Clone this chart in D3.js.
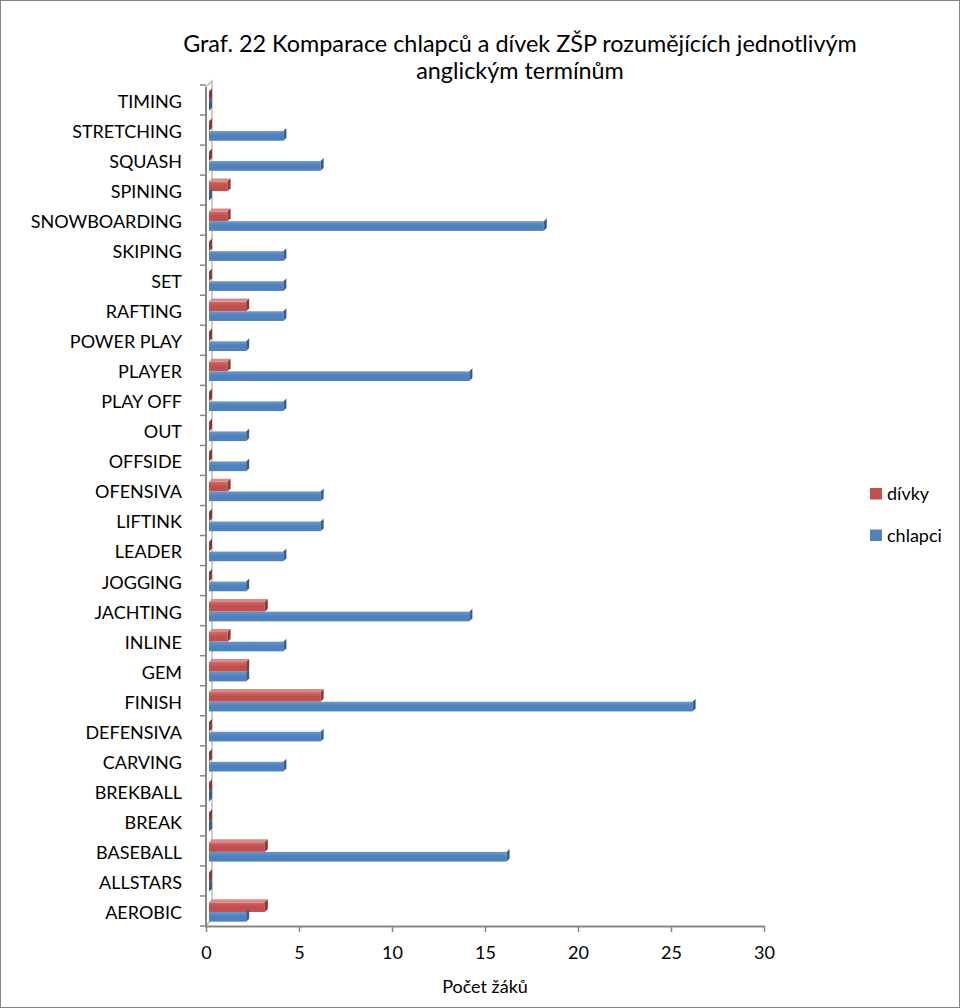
<!DOCTYPE html>
<html>
<head>
<meta charset="utf-8">
<script src="https://cdn.jsdelivr.net/npm/d3@7"></script>
<style>
  html, body { margin: 0; padding: 0; background: #fff; }
  svg { display: block; }
  text { font-family: Lato, "Open Sans", sans-serif; fill: #000; }
</style>
</head>
<body>
<svg id="chart" width="960" height="1008"></svg>
<script>
// Terms, listed bottom to top as they appear on the category axis
const categories = [
  "AEROBIC", "ALLSTARS", "BASEBALL", "BREAK", "BREKBALL", "CARVING",
  "DEFENSIVA", "FINISH", "GEM", "INLINE", "JACHTING", "JOGGING", "LEADER",
  "LIFTINK", "OFENSIVA", "OFFSIDE", "OUT", "PLAY OFF", "PLAYER",
  "POWER PLAY", "RAFTING", "SET", "SKIPING", "SNOWBOARDING", "SPINING",
  "SQUASH", "STRETCHING", "TIMING"
];
// Number of girls who understood each term
const divky = [3, 0, 3, 0, 0, 0, 0, 6, 2, 1, 3, 0, 0, 0, 1, 0, 0, 0, 1, 0, 2, 0, 0, 1, 1, 0, 0, 0];
// Number of boys who understood each term
const chlapci = [2, 0, 16, 0, 0, 4, 6, 26, 2, 4, 14, 2, 4, 6, 6, 2, 2, 4, 14, 2, 4, 4, 4, 18, 0, 6, 4, 0];
const xTicks = [0, 5, 10, 15, 20, 25, 30];
const seriesNames = ["dívky", "chlapci"];
const titleLines = ["Graf. 22 Komparace chlapců a dívek ZŠP rozumějících jednotlivým", "anglickým termínům"];
const xAxisTitle = "Počet žáků";

const colors = {
  "dívky":   { front: "#C0504D", top: "#D98A88", side: "#8C3836", light: "#CF6B68" },
  "chlapci": { front: "#4F81BD", top: "#8AAEDB", side: "#385D8A", light: "#6C97CD" }
};

const svg = d3.select("#chart");
const W = 960, H = 1008;

// outer frame
svg.append("rect").attr("x", 0.5).attr("y", 0.5).attr("width", W - 1).attr("height", H - 1)
  .attr("fill", "#fff").attr("stroke", "#868686").attr("stroke-width", 1);

const plot = { left: 206, right: 764, top: 85, bottom: 926 };
const depth = 3;        // 3D depth offset of the bars
const wallDepth = 7;    // thickness of the side wall

const x = d3.scaleLinear().domain([0, 30]).range([plot.left, plot.right]);
const y = d3.scaleBand().domain(categories.slice().reverse()).range([plot.top, plot.bottom]);
const ys = d3.scaleBand().domain(seriesNames).range([0, y.bandwidth()]).paddingOuter(0.55).paddingInner(0);

// gradients for the front faces
const defs = svg.append("defs");
seriesNames.forEach((s, i) => {
  const g = defs.append("linearGradient").attr("id", "grad" + i)
    .attr("x1", 0).attr("y1", 0).attr("x2", 0).attr("y2", 1);
  g.append("stop").attr("offset", "0%").attr("stop-color", colors[s].light);
  g.append("stop").attr("offset", "45%").attr("stop-color", colors[s].front);
  g.append("stop").attr("offset", "100%").attr("stop-color", colors[s].front);
});

// side wall (3D)
const wall = svg.append("g");
wall.append("path")
  .attr("d", `M${plot.left},${plot.top + 2} L${plot.left + wallDepth - 1},${plot.top - 4} L${plot.left + wallDepth - 1},${plot.bottom - 8} L${plot.left},${plot.bottom} Z`)
  .attr("fill", "#fff").attr("stroke", "#BDBDBD").attr("stroke-width", 1.5);

// category axis line and ticks
svg.append("line").attr("x1", plot.left).attr("x2", plot.left)
  .attr("y1", plot.top + 2).attr("y2", plot.bottom)
  .attr("stroke", "#878787").attr("stroke-width", 2);
const boundaries = d3.range(categories.length + 1).map(i => plot.top + i * y.step());
svg.append("g").selectAll("line").data(boundaries).join("line")
  .attr("x1", plot.left - 6).attr("x2", plot.left)
  .attr("y1", d => d).attr("y2", d => d)
  .attr("stroke", "#878787").attr("stroke-width", 1.5);

// category labels
svg.append("g").selectAll("text").data(categories).join("text")
  .attr("x", 182)
  .attr("y", d => y(d) + y.bandwidth() / 2)
  .attr("dy", "0.44em")
  .attr("text-anchor", "end")
  .attr("font-size", 18)
  .text(d => d);

// bars
const seriesData = [divky, chlapci];
const barsG = svg.append("g");
seriesNames.forEach((s, si) => {
  const vals = seriesData[si];
  const g = barsG.append("g");
  categories.forEach((c, ci) => {
    const v = vals[ci];
    const x0 = x(0) + depth;
    const x1 = x(v) + depth;
    const yt = y(c) + ys(s) + 1;
    const yb = yt + ys.bandwidth();
    // front face
    g.append("rect").attr("x", x0).attr("y", yt).attr("width", Math.max(0, x1 - x0)).attr("height", yb - yt)
      .attr("fill", `url(#grad${si})`);
    // top face (only visible on the upper series)
    if (si === 0) {
      g.append("path")
        .attr("d", `M${x0},${yt} L${x0 + depth},${yt - depth} L${x1 + depth},${yt - depth} L${x1},${yt} Z`)
        .attr("fill", colors[s].top);
    }
    // end cap
    g.append("path")
      .attr("d", `M${x1},${yt} L${x1 + depth},${yt - depth} L${x1 + depth},${yb - depth} L${x1},${yb} Z`)
      .attr("fill", colors[s].side);
  });
});

// value axis
const xAxis = d3.axisBottom(x).tickValues(xTicks).tickSize(6).tickPadding(18).tickSizeOuter(0);
const xg = svg.append("g").attr("transform", `translate(0,${plot.bottom})`).call(xAxis);
xg.select(".domain").attr("stroke", "#878787").attr("stroke-width", 2);
xg.selectAll(".tick line").attr("stroke", "#878787").attr("stroke-width", 1.5);
xg.selectAll(".tick text").attr("font-size", 18).attr("font-family", "Lato, sans-serif").attr("fill", "#000")
  .attr("dy", "0.5em");

svg.append("text").attr("x", (plot.left + plot.right) / 2).attr("y", 993)
  .attr("text-anchor", "middle").attr("font-size", 18).text(xAxisTitle);

// title
svg.append("g").selectAll("text").data(titleLines).join("text")
  .attr("x", 520).attr("y", (d, i) => 52 + i * 27)
  .attr("text-anchor", "middle").attr("font-size", 23.4)
  .text(d => d);

// legend
const legend = svg.append("g");
seriesNames.forEach((s, i) => {
  const ly = 494 + i * 41.5;
  legend.append("rect").attr("x", 870).attr("y", ly - 6).attr("width", 12).attr("height", 11.5)
    .attr("fill", colors[s].front);
  legend.append("text").attr("x", 887).attr("y", ly).attr("dy", "0.36em")
    .attr("font-size", 18).text(s);
});
</script>
</body>
</html>
